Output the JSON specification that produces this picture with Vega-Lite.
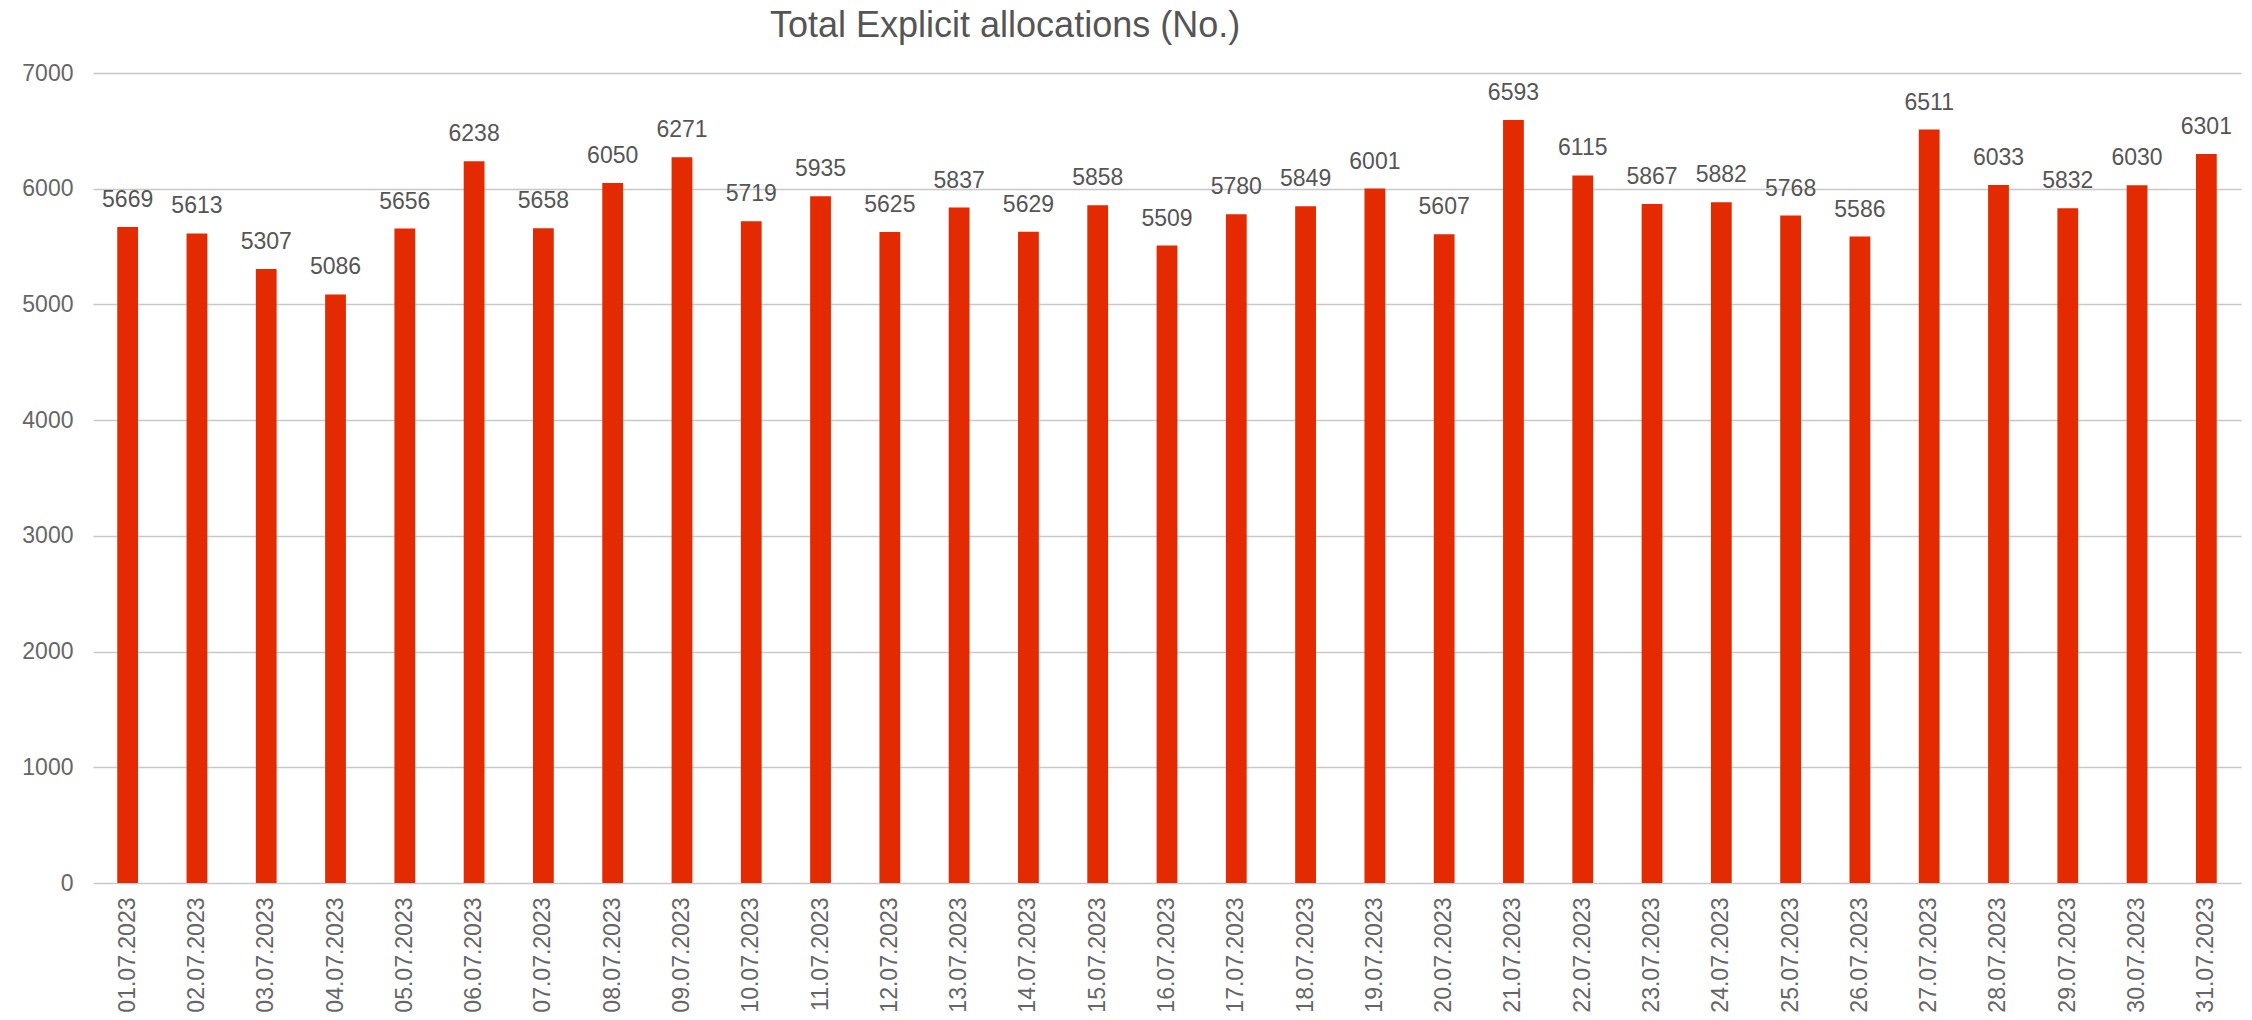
{
  "$schema": "https://vega.github.io/schema/vega-lite/v6.json",
  "autosize": "none",
  "padding": {"left": 93, "top": 73, "right": 11, "bottom": 137},
  "width": 2148,
  "height": 810,
  "background": "white",
  "config": {
    "view": {"stroke": null},
    "font": "Liberation Sans"
  },
  "title": {
    "text": "Total Explicit allocations (No.)",
    "anchor": "start",
    "frame": "group",
    "dx": 677,
    "offset": 17,
    "fontSize": 36,
    "fontWeight": "normal",
    "color": "#555555",
    "font": "Liberation Sans"
  },
  "data": {
    "values": [
      {"date": "01.07.2023", "value": 5669},
      {"date": "02.07.2023", "value": 5613},
      {"date": "03.07.2023", "value": 5307},
      {"date": "04.07.2023", "value": 5086},
      {"date": "05.07.2023", "value": 5656},
      {"date": "06.07.2023", "value": 6238},
      {"date": "07.07.2023", "value": 5658},
      {"date": "08.07.2023", "value": 6050},
      {"date": "09.07.2023", "value": 6271},
      {"date": "10.07.2023", "value": 5719},
      {"date": "11.07.2023", "value": 5935},
      {"date": "12.07.2023", "value": 5625},
      {"date": "13.07.2023", "value": 5837},
      {"date": "14.07.2023", "value": 5629},
      {"date": "15.07.2023", "value": 5858},
      {"date": "16.07.2023", "value": 5509},
      {"date": "17.07.2023", "value": 5780},
      {"date": "18.07.2023", "value": 5849},
      {"date": "19.07.2023", "value": 6001},
      {"date": "20.07.2023", "value": 5607},
      {"date": "21.07.2023", "value": 6593},
      {"date": "22.07.2023", "value": 6115},
      {"date": "23.07.2023", "value": 5867},
      {"date": "24.07.2023", "value": 5882},
      {"date": "25.07.2023", "value": 5768},
      {"date": "26.07.2023", "value": 5586},
      {"date": "27.07.2023", "value": 6511},
      {"date": "28.07.2023", "value": 6033},
      {"date": "29.07.2023", "value": 5832},
      {"date": "30.07.2023", "value": 6030},
      {"date": "31.07.2023", "value": 6301}
    ]
  },
  "encoding": {
    "x": {
      "field": "date",
      "type": "ordinal",
      "sort": null,
      "scale": {"paddingInner": 0.7, "paddingOuter": 0.35},
      "axis": {
        "title": null,
        "labelAngle": -90,
        "labelFontSize": 23,
        "labelColor": "#666666",
        "labelPadding": 14,
        "ticks": false,
        "domain": false,
        "labelFont": "Liberation Sans"
      }
    },
    "y": {
      "field": "value",
      "type": "quantitative",
      "scale": {"domain": [0, 7000], "nice": false},
      "axis": {
        "title": null,
        "values": [0, 1000, 2000, 3000, 4000, 5000, 6000, 7000],
        "format": "d",
        "labelFontSize": 23,
        "labelColor": "#666666",
        "labelPadding": 20,
        "ticks": false,
        "domain": false,
        "gridColor": "#c8c8c8",
        "gridWidth": 1.5,
        "labelFont": "Liberation Sans"
      }
    }
  },
  "layer": [
    {
      "mark": {"type": "bar", "color": "#e32a00"}
    },
    {
      "mark": {
        "type": "text",
        "baseline": "alphabetic",
        "dy": -20,
        "fontSize": 23,
        "color": "#555555",
        "font": "Liberation Sans"
      },
      "encoding": {
        "text": {"field": "value", "type": "quantitative", "format": "d"}
      }
    }
  ]
}
